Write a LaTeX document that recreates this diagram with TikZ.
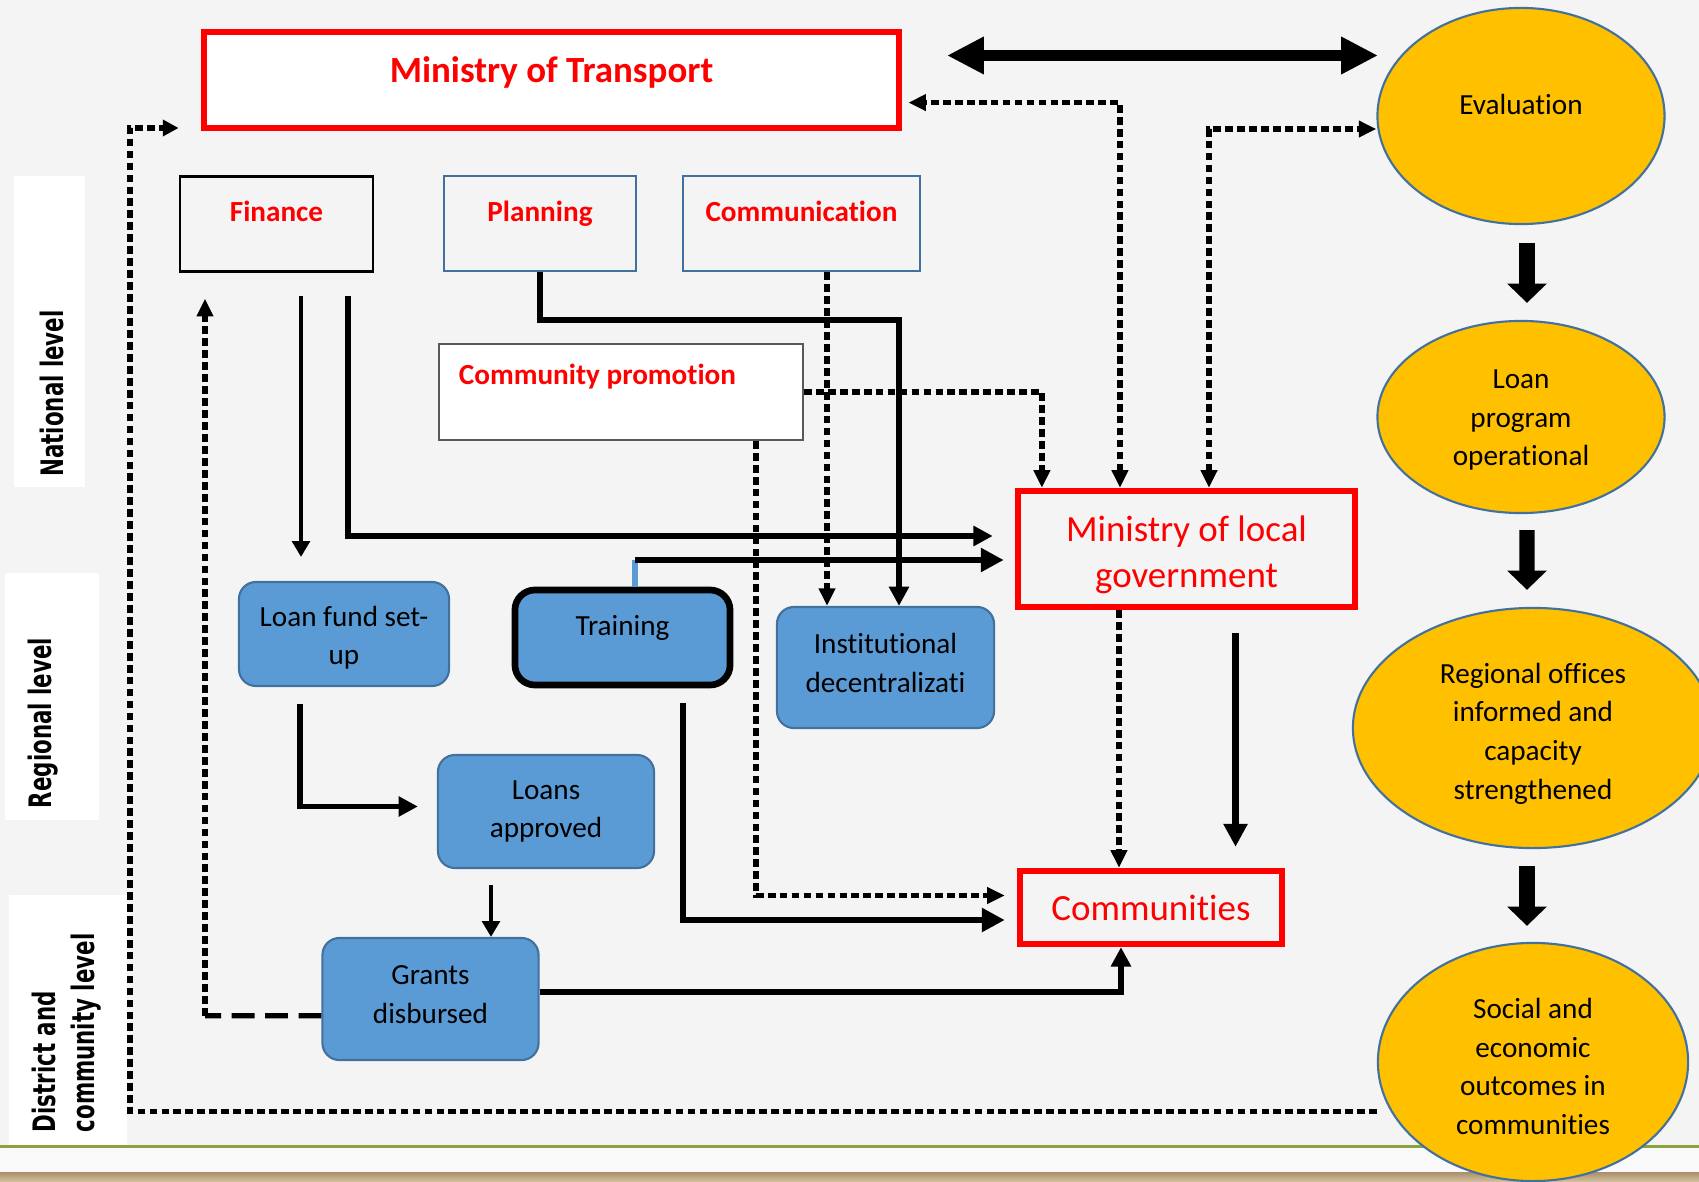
\documentclass[tikz,border=0pt]{standalone}
\usepackage{fontspec}
\setmainfont{Carlito}[Ligatures=CommonOff]
\newfontfamily\lvlfont{DejaVu Sans}
\usetikzlibrary{arrows.meta,shapes.geometric}
\definecolor{goalfill}{HTML}{FFC000}
\definecolor{goalline}{HTML}{41719C}
\definecolor{taskblue}{HTML}{5B9BD5}
\definecolor{slidebg}{HTML}{F4F4F4}
\definecolor{baroliv}{HTML}{8CA23C}
\definecolor{bandtop}{HTML}{A88E6C}
\definecolor{bandbot}{HTML}{D6C29E}
\newcommand{\lvlsq}[1]{\scalebox{0.69}[1]{#1}}
\newcommand{\lift}[1]{\rule{0pt}{#1}}
\tikzset{
  redbox/.style={draw=red, line width=1.8pt, text=red, inner sep=1pt, font=\fontsize{10.5}{13.1}\selectfont},
  unitbox/.style={draw, line width=0.7pt, text=red, minimum height=0.95cm, text depth=7.1pt, font=\fontsize{8.3}{11}\selectfont\bfseries},
  taskbox/.style={draw=goalline, fill=taskblue, line width=0.6pt, rounded corners=0.17cm, align=center, inner sep=1pt, font=\fontsize{8.3}{11}\selectfont},
  goal/.style={ellipse, draw=goalline, fill=goalfill, line width=0.6pt, inner sep=0pt, align=center, font=\fontsize{8.3}{11}\selectfont},
  lvl/.style={rotate=90, inner sep=0pt, font=\lvlfont\bfseries\fontsize{8.8}{11}\selectfont},
  conn/.style={line width=1.5pt, -{Triangle[length=5.5pt,width=5.5pt]}},
  thickconn/.style={line width=1.9pt, -{Triangle[length=6.5pt,width=6.5pt]}},
  thinconn/.style={line width=1.1pt, -{Triangle[length=4.5pt,width=5pt]}},
  dotconn/.style={line width=1.5pt, dash pattern=on 2.2pt off 1.2pt, -{Triangle[length=5pt,width=4.5pt]}},
  dotboth/.style={dotconn, {Triangle[length=5pt,width=4.5pt]}-{Triangle[length=5pt,width=4.5pt]}},
  dashconn/.style={line width=1.5pt, dash pattern=on 6.5pt off 3pt},
  bigboth/.style={line width=3.3pt, {Triangle[length=10.5pt,width=10pt]}-{Triangle[length=10.5pt,width=10pt]}},
  bigdown/.style={line width=4.3pt, -{Triangle[length=5.5pt,width=11pt]}}
}
\begin{document}
\begin{tikzpicture}[x=0.01cm, y=-0.01cm]
    \path[use as bounding box, fill=slidebg] (0,0) rectangle (1699,1182);
    \fill[white] (14,176) rectangle (85,487);
    \fill[white] (5,573) rectangle (99,820);
    \fill[white] (9,895) rectangle (127,1146);
    \fill[white!50!slidebg] (0,1148) rectangle (1699,1172);
    \shade[top color=bandtop, bottom color=bandbot] (0,1172) rectangle (1699,1182);
    \draw[baroliv, line width=1pt] (0,1146.5) to (1699,1146.5);

    \node[lvl] (natlvl) at (52,393.5) {\lvlsq{National level}};
    \node[lvl] (reglvl) at (43,723) {\lvlsq{Regional level}};
    \node[lvl, anchor=west, align=left] (distlvl) at (66.5,1133) {\lvlsq{District and}\\\lvlsq{community level}};

    \node[redbox, fill=white, minimum width=6.95cm, minimum height=0.96cm, text depth=5.7pt, font=\fontsize{10.5}{13.1}\selectfont\bfseries] (mot) at (551.5,80) {Ministry of Transport};
    \node[unitbox, draw=black, minimum width=1.93cm] (fin) at (276.5,224) {Finance};
    \node[unitbox, draw=goalline, minimum width=1.92cm] (plan) at (540,223.5) {Planning};
    \node[unitbox, draw=goalline, minimum width=2.37cm] (com) at (801.5,223.5) {Communication};
    \node[unitbox, draw=gray!70!black, line width=0.5pt, fill=white, minimum height=0.96cm, inner xsep=0.2cm, text depth=10.1pt] (promo) at (621,392) {\makebox[3.24cm][l]{Community promotion}};
    \node[redbox, minimum width=3.37cm, minimum height=1.16cm, align=center] (mlg) at (1186.5,549) {\lift{10.6pt}Ministry of local\\government};
    \node[redbox, minimum width=2.62cm, minimum height=0.73cm] (cty) at (1151,907.5) {Communities};

    \node[taskbox, minimum width=2.1cm, minimum height=1.04cm] (lfund) at (344,634) {\lift{7.8pt}Loan fund set-\\up};
    \node[taskbox, draw=black, line width=1.9pt, rounded corners=0.2cm, minimum width=2.15cm, minimum height=0.95cm, text depth=7.1pt] (train) at (622.5,637.5) {Training};
    \node[taskbox, minimum width=2.17cm, minimum height=1.21cm, text depth=2.6pt] (inst) at (885.5,667.5) {Institutional\\decentralizati};
    \node[taskbox, minimum width=2.16cm, minimum height=1.13cm] (loans) at (546,811.5) {Loans\\approved};
    \node[taskbox, minimum width=2.16cm, minimum height=1.22cm, text depth=2.6pt] (grants) at (430.5,999) {Grants\\disbursed};

    \node[goal, minimum width=2.87cm, minimum height=2.16cm, text depth=6.7pt] (eval) at (1521,116) {Evaluation};
    \node[goal, minimum width=2.87cm, minimum height=1.92cm] (lprog) at (1521,417) {\lift{7.1pt}Loan\\program\\operational};
    \node[goal, minimum width=3.6cm, minimum height=2.4cm] (regoff) at (1533,728) {\lift{9pt}Regional offices\\informed and\\capacity\\strengthened};
    \node[goal, minimum width=3.1cm, minimum height=2.38cm] (social) at (1533,1062) {\lift{8.3pt}Social and\\economic\\outcomes in\\communities};

    \coordinate (fbtop) at (130,128);
    \coordinate (gbend) at (205,1015.7);
    \coordinate (fa) at (301,296);
    \coordinate (fb) at (348,296);
    \coordinate (pbend) at (899,320);
    \coordinate (cs) at ([xshift=0.255cm]com.south);
    \coordinate (ps) at ([xshift=1.35cm]promo.south);
    \coordinate (tb) at (635,560);
    \coordinate (tc) at (683,703);
    \coordinate (lf) at (300,704);
    \coordinate (la) at (491,885);
    \coordinate (md) at ([xshift=-0.675cm]mlg.south);
    \coordinate (ms) at ([xshift=0.49cm]mlg.south);
    \coordinate (dl) at (947,55.5);
    \coordinate (dr) at (1378,55.5);

    \draw[bigboth] (dl) to (dr);
    \draw[bigdown] ([xshift=0.06cm,yshift=-0.18cm]eval.south) to ([xshift=0.06cm,yshift=0.17cm]lprog.north);
    \draw[bigdown] ([xshift=0.06cm,yshift=-0.16cm]lprog.south) to ([xshift=-0.06cm,yshift=0.17cm]regoff.north);
    \draw[bigdown] ([xshift=-0.06cm,yshift=-0.17cm]regoff.south) to ([xshift=-0.06cm,yshift=0.16cm]social.north);

    \draw[dotconn, -{Triangle[length=4.5pt,width=4.5pt]}, shorten >=0.22cm] ([yshift=-0.495cm]social.west) -| (fbtop) -- (fbtop -| mot.west);
    \draw[dashconn] ([yshift=-0.167cm]grants.west) -- (gbend);
    \draw[dotconn, shorten >=0.26cm] (gbend) -- (gbend |- fin.south);
    \draw[thinconn, shorten >=0.24cm] (fa) -- (fa |- lfund.north);
    \draw[conn, shorten >=0.22cm] (fb) |- ([yshift=0.13cm]mlg.west);
    \draw[conn] (plan.south) |- (pbend) -- (pbend |- inst.north);
    \draw[dotconn] (cs) -- (cs |- inst.north);
    \draw[dotconn] (promo.east) -| ([xshift=-1.445cm]mlg.north);
    \draw[dotconn, shorten >=0.12cm] (ps) |- ([yshift=0.12cm]cty.west);
    \draw[taskblue, line width=1.6pt] (tb) -- (tb |- train.north);
    \draw[thickconn, shorten >=0.11cm] (tb) -- (tb -| mlg.west);
    \draw[thickconn, shorten >=0.12cm] (tc) |- ([yshift=-0.125cm]cty.west);
    \draw[conn, shorten >=0.19cm] (lf) |- ([yshift=0.05cm]loans.west);
    \draw[thinconn] (la) -- (la |- grants.north);
    \draw[conn] ([yshift=0.07cm]grants.east) -| ([xshift=-0.3cm]cty.south);
    \draw[dotboth, shorten >=0.06cm] ([xshift=-0.665cm]mlg.north) |- ([yshift=-0.226cm]mot.east);
    \draw[dotboth] ([xshift=0.225cm]mlg.north) |- ([yshift=-0.13cm]eval.west);
    \draw[dotconn] (md) -- (md |- cty.north);
    \draw[thickconn, shorten <=0.23cm, shorten >=0.21cm] (ms) -- (ms |- cty.north);
\end{tikzpicture}
\end{document}
